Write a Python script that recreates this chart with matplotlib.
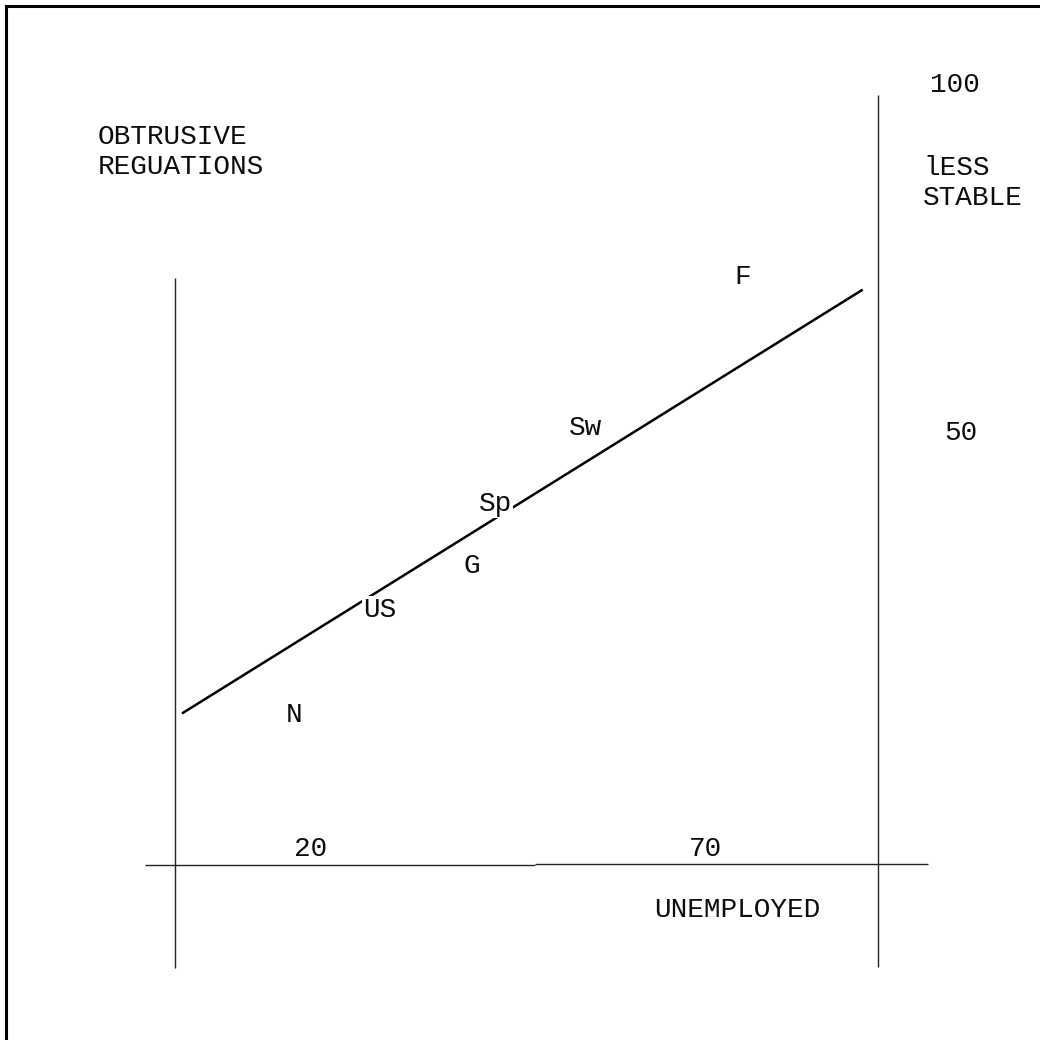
import matplotlib
matplotlib.use("Agg")
import matplotlib.pyplot as plt
from matplotlib.lines import Line2D

# Countries: share unemployed (x) vs. obtrusiveness of regulation (y)
countries = ["N", "US", "G", "Sp", "Sw", "F"]
unemployed = [17.8, 28.7, 40.3, 43.3, 54.7, 74.6]
regulation = [9.5, 24.6, 30.9, 39.8, 50.7, 72.4]

# Fitted trend line end points
trend_x = [3.8, 89.7]
trend_y = [9.8, 70.5]

# Tick labels written along the axes
x_ticks = [20, 70]
y_ticks = [100, 50]

# Hand-drawn axis frame
left_axis_x, left_axis_y = [2.8, 2.8], [72.3, -26.9]
right_axis_x, right_axis_y = [91.8, 91.8], [98.6, -26.7]
base_left_x, base_left_y = [-1.0, 48.4], [-12.1, -12.1]
base_right_x, base_right_y = [48.4, 98.1], [-11.9, -11.9]

FONT = ["Liberation Mono", "DejaVu Sans Mono"]
FS = 20
INK = "#0d0d0d"

fig = plt.figure(figsize=(10.4, 10.4), dpi=100)
ax = fig.add_axes([0, 0, 1, 1])
ax.set_xlim(-19.37, 112.28)
ax.set_ylim(-37.21, 112.21)
ax.axis("off")

axis_style = dict(color="#222222", lw=1.0, solid_capstyle="butt")
ax.plot(left_axis_x, left_axis_y, **axis_style)
ax.plot(right_axis_x, right_axis_y, **axis_style)
ax.plot(base_left_x, base_left_y, **axis_style)
ax.plot(base_right_x, base_right_y, **axis_style)

ax.plot(trend_x, trend_y, color="black", lw=1.8, zorder=2)

for name, x, y in zip(countries, unemployed, regulation):
    ax.text(x, y, name, ha="center", va="center", fontsize=FS, family=FONT,
            color=INK, zorder=3,
            bbox=dict(facecolor="white", edgecolor="none", pad=0.5))

for v in x_ticks:
    ax.text(v, -9.7, str(v), ha="center", va="center", fontsize=FS,
            family=FONT, color=INK)
for v in y_ticks:
    ax.text(101.5 if v == 100 else 102.2, v, str(v), ha="center", va="center",
            fontsize=FS, family=FONT, color=INK)

fig.text(98 / 1040, 1 - 152 / 1040, "OBTRUSIVE\nREGUATIONS", ha="left",
         va="center", fontsize=FS, family=FONT, color=INK,
         linespacing=1.2)
fig.text(923 / 1040, 1 - 183 / 1040, "lESS\nSTABLE", ha="left",
         va="center", fontsize=FS, family=FONT, color=INK,
         linespacing=1.2)
fig.text(737 / 1040, 1 - 910 / 1040, "UNEMPLOYED", ha="center",
         va="center", fontsize=FS, family=FONT, color=INK)

# Outer frame: only the left and top edges show
edge = 6 / 1040
fig.add_artist(Line2D([edge, edge], [0, 1 - edge], transform=fig.transFigure,
                      color="black", lw=2.2, solid_capstyle="projecting"))
fig.add_artist(Line2D([edge, 1], [1 - edge, 1 - edge], transform=fig.transFigure,
                      color="black", lw=2.2, solid_capstyle="projecting"))

fig.savefig("out.png", dpi=100, facecolor="white")
